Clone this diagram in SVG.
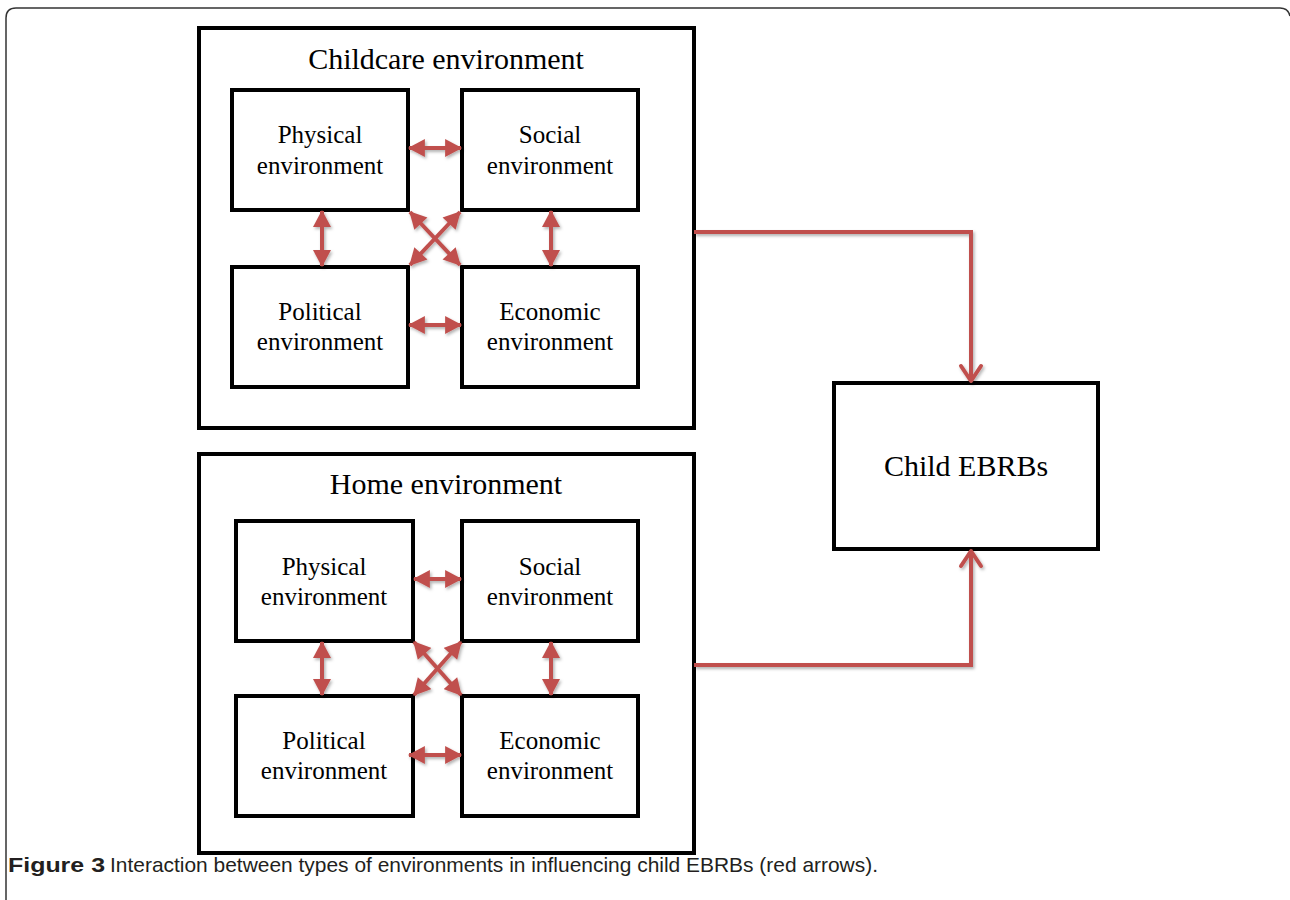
<svg xmlns="http://www.w3.org/2000/svg" width="1290" height="900" viewBox="0 0 1290 900">
<style>
.box{fill:#fff;stroke:#000;stroke-width:4}
.t{font-family:"Liberation Serif","Times New Roman",serif;text-anchor:middle;fill:#000}
.lbl{font-size:25px}
.ttl{font-size:30px}
.arr{stroke:#C0504D;stroke-width:4;fill:none}
.cap{font-family:"Liberation Sans Narrow","Liberation Sans",Arial,sans-serif;font-size:21px;fill:#231f20}
</style>
<defs>
<filter id="sh" x="-20%" y="-20%" width="140%" height="140%">
<feDropShadow dx="1.5" dy="2" stdDeviation="1.5" flood-color="#000" flood-opacity="0.3"/>
</filter>
<marker id="tri" markerUnits="userSpaceOnUse" markerWidth="18" markerHeight="18" viewBox="0 0 16 17" refX="15" refY="8.5" orient="auto-start-reverse">
<path d="M0,0 L16,8.5 L0,17 Z" fill="#C0504D"/>
</marker>
</defs>
<rect width="1290" height="900" fill="#fff"/>
<path d="M6,900 V18 Q6,8 16,8 H1280 Q1288,8 1290,16" fill="none" stroke="#333" stroke-width="1.5"/>

<g id="childcare">
<rect class="box" x="199" y="28" width="495" height="400"/>
<text class="t ttl" x="446" y="69">Childcare environment</text>
</g>
<g id="cc-physical">
<rect class="box" x="232" y="90" width="176" height="120"/>
<text class="t lbl" x="320" y="143">Physical</text>
<text class="t lbl" x="320" y="174">environment</text>
</g>
<g id="cc-social">
<rect class="box" x="462" y="90" width="176" height="120"/>
<text class="t lbl" x="550" y="143">Social</text>
<text class="t lbl" x="550" y="174">environment</text>
</g>
<g id="cc-political">
<rect class="box" x="232" y="267" width="176" height="120"/>
<text class="t lbl" x="320" y="320">Political</text>
<text class="t lbl" x="320" y="350">environment</text>
</g>
<g id="cc-economic">
<rect class="box" x="462" y="267" width="176" height="120"/>
<text class="t lbl" x="550" y="320">Economic</text>
<text class="t lbl" x="550" y="350">environment</text>
</g>

<g id="home">
<rect class="box" x="199" y="454" width="495" height="399"/>
<text class="t ttl" x="446" y="494">Home environment</text>
</g>
<g id="home-physical">
<rect class="box" x="236" y="521" width="177" height="120"/>
<text class="t lbl" x="324" y="575">Physical</text>
<text class="t lbl" x="324" y="605">environment</text>
</g>
<g id="home-social">
<rect class="box" x="462" y="521" width="176" height="120"/>
<text class="t lbl" x="550" y="575">Social</text>
<text class="t lbl" x="550" y="605">environment</text>
</g>
<g id="home-political">
<rect class="box" x="236" y="696" width="177" height="120"/>
<text class="t lbl" x="324" y="749">Political</text>
<text class="t lbl" x="324" y="779">environment</text>
</g>
<g id="home-economic">
<rect class="box" x="462" y="696" width="176" height="120"/>
<text class="t lbl" x="550" y="749">Economic</text>
<text class="t lbl" x="550" y="779">environment</text>
</g>

<g id="child-ebrbs">
<rect class="box" x="834" y="383" width="264" height="166"/>
<text class="t ttl" x="966" y="476">Child EBRBs</text>
</g>

<g id="connectors" filter="url(#sh)">
<g class="arr" marker-start="url(#tri)" marker-end="url(#tri)">
<line x1="409" y1="148" x2="461" y2="148"/>
<line x1="409" y1="325" x2="461" y2="325"/>
<line x1="322" y1="211" x2="322" y2="266"/>
<line x1="551" y1="211" x2="551" y2="266"/>
<line x1="410" y1="212" x2="460" y2="265"/>
<line x1="460" y1="212" x2="410" y2="265"/>
<line x1="414" y1="579" x2="461" y2="579"/>
<line x1="409" y1="755" x2="461" y2="755"/>
<line x1="322" y1="642" x2="322" y2="695"/>
<line x1="551" y1="642" x2="551" y2="695"/>
<line x1="414" y1="642" x2="461" y2="695"/>
<line x1="461" y1="642" x2="414" y2="695"/>
</g>
<path class="arr" d="M694,232 H971 V381"/>
<path class="arr" d="M961,366 L971,381 L981,366" stroke-linecap="round" stroke-linejoin="round"/>
<path class="arr" d="M694,665 H971 V551"/>
<path class="arr" d="M961,566 L971,551 L981,566" stroke-linecap="round" stroke-linejoin="round"/>
</g>

<text class="cap" x="8" y="872" font-weight="bold" textLength="97" lengthAdjust="spacingAndGlyphs">Figure 3</text>
<text class="cap" x="110" y="872" textLength="768" lengthAdjust="spacingAndGlyphs">Interaction between types of environments in influencing child EBRBs (red arrows).</text>
</svg>
